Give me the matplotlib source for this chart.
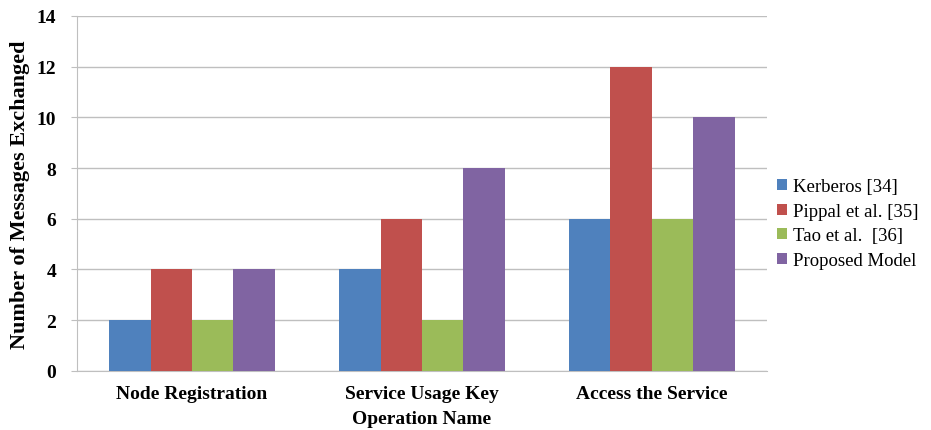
import numpy as np
import matplotlib.pyplot as plt

plt.rcParams['font.family'] = ['Liberation Serif', 'DejaVu Serif']

operations = ["Node Registration", "Service Usage Key", "Access the Service"]
kerberos = [2, 4, 6]
pippal = [4, 6, 12]
tao = [2, 2, 6]
proposed = [4, 8, 10]

series = [
    ("Kerberos [34]", kerberos, "#4F81BD"),
    ("Pippal et al. [35]", pippal, "#C0504D"),
    ("Tao et al.  [36]", tao, "#9BBB59"),
    ("Proposed Model", proposed, "#8064A2"),
]

fig = plt.figure(figsize=(9.31, 4.31), dpi=100)
ax = fig.add_axes([0.0827, 0.137, 0.741, 0.824])

x = np.arange(len(operations))
w = 0.18
for i, (name, vals, col) in enumerate(series):
    ax.bar(x + (i - 1.5) * w, vals, w, color=col, label=name, zorder=3)

ax.set_xlim(-0.5, len(operations) - 0.5)
ax.set_ylim(0, 14)
ax.set_yticks(range(0, 15, 2))
ax.grid(axis='y', color='#BFBFBF', linewidth=1, zorder=0)
ax.set_xticks(x)
ax.set_xticklabels(operations, fontsize=14, fontweight='bold')
ax.tick_params(axis='x', length=0, pad=10)
ax.tick_params(axis='y', length=4, color='#BFBFBF', labelsize=14, pad=11)
for lab in ax.get_yticklabels():
    lab.set_fontweight('bold')

for s in ['top', 'right']:
    ax.spines[s].set_visible(False)
for s in ['left', 'bottom']:
    ax.spines[s].set_color('#BFBFBF')

ax.set_ylabel("Number of Messages Exchanged", fontsize=16, fontweight='bold', labelpad=5)
ax.set_xlabel("Operation Name", fontsize=14, fontweight='bold', labelpad=6)

ax.legend(loc='center left', bbox_to_anchor=(0.99, 0.415), frameon=False,
          fontsize=13.5, handlelength=0.55, handleheight=0.55, handletextpad=0.3,
          labelspacing=0.4)

fig.savefig("out.png", dpi=100)
